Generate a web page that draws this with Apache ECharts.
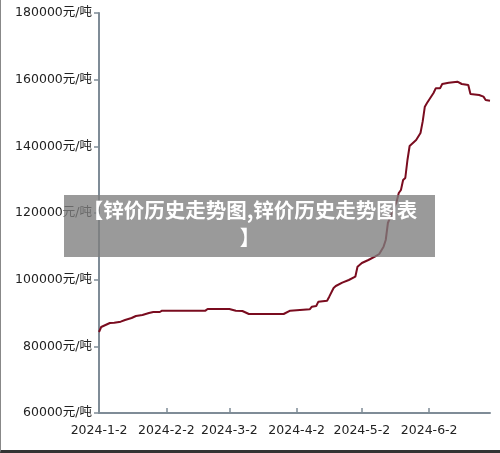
<!DOCTYPE html>
<html>
<head>
<meta charset="utf-8">
<script src="https://cdn.jsdelivr.net/npm/echarts@6/dist/echarts.min.js"></script>
<style>
html,body{margin:0;padding:0;background:#fff;}
#wrap{position:relative;width:500px;height:453px;}
#chart{width:500px;height:453px;}
#frame{position:absolute;left:0;top:0;width:500px;height:453px;box-sizing:border-box;border-left:1px solid #888;border-bottom:3px solid #333;pointer-events:none;}
</style>
</head>
<body>
<div id="wrap"><div id="chart"></div><div id="frame"></div></div>
<script>
const dates = ['2024-01-02','2024-01-03','2024-01-05','2024-01-07','2024-01-09','2024-01-12','2024-01-14','2024-01-17','2024-01-19','2024-01-22','2024-01-25','2024-01-27','2024-01-30','2024-01-31','2024-02-20','2024-02-21','2024-03-02','2024-03-05','2024-03-08','2024-03-11','2024-03-27','2024-03-30','2024-04-08','2024-04-09','2024-04-11','2024-04-12','2024-04-16','2024-04-17','2024-04-19','2024-04-20','2024-04-23','2024-04-26','2024-04-29','2024-04-30','2024-05-02','2024-05-05','2024-05-08','2024-05-10','2024-05-12','2024-05-13','2024-05-14','2024-05-18','2024-05-19','2024-05-20','2024-05-21','2024-05-22','2024-05-23','2024-05-24','2024-05-25','2024-05-27','2024-05-29','2024-05-30','2024-05-31','2024-06-01','2024-06-04','2024-06-05','2024-06-07','2024-06-08','2024-06-11','2024-06-15','2024-06-17','2024-06-20','2024-06-21','2024-06-25','2024-06-27','2024-06-28','2024-06-30'];
const prices = [84300,85800,86400,87000,87100,87400,87900,88500,89100,89400,90000,90300,90300,90700,90700,91200,91200,90700,90600,89700,89700,90700,91100,91900,92100,93400,93700,94900,97500,98100,99100,99900,100900,103900,105000,105900,106900,107700,109900,111900,117000,123400,126000,126900,129900,130500,135900,140100,140700,141900,144000,147400,151900,153000,156000,157400,157400,158700,159100,159400,158700,158400,155700,155400,154900,153900,153700];
const xTicks = ['2024-01-02','2024-02-02','2024-03-02','2024-04-02','2024-05-02','2024-06-02'];
const yMin = 60000, yMax = 180000, yStep = 20000;
const titleLine1 = '【锌价历史走势图,锌价历史走势图表';
const titleLine2 = '】';

const ts = s => new Date(s + 'T00:00:00').getTime();
const chart = echarts.init(document.getElementById('chart'), null, {renderer:'canvas'});
const axisColor = '#7f8c97';
const labelFont = '"DejaVu Sans", "Noto Sans CJK SC", sans-serif';
chart.setOption({
  animation:false,
  backgroundColor:'#fff',
  grid:{left:99,right:10,top:13,bottom:40,containLabel:false},
  xAxis:{
    type:'value',
    min: ts(dates[0]), max: ts(dates[dates.length-1]),
    splitLine:{show:false},
    axisLine:{lineStyle:{color:axisColor,width:2}},
    axisTick:{show:true,inside:true,length:5,lineStyle:{color:axisColor,width:1.5},customValues: xTicks.map(ts)},
    axisLabel:{color:'#222',fontSize:12.5,margin:11,fontFamily:labelFont,
      customValues: xTicks.map(ts),
      formatter: v => { const d = new Date(v); return d.getFullYear()+'-'+(d.getMonth()+1)+'-'+d.getDate(); }}
  },
  yAxis:{
    type:'value', min:yMin, max:yMax, interval:yStep,
    splitLine:{show:false},
    axisLine:{show:true,lineStyle:{color:axisColor,width:2}},
    axisTick:{show:true,length:5,lineStyle:{color:axisColor,width:1.5}},
    axisLabel:{color:'#222',fontSize:12.5,margin:7,fontFamily:labelFont,formatter: v => v + '元/吨'}
  },
  series:[{
    type:'line',
    data: dates.map((d,i)=>[ts(d), prices[i]]),
    symbol:'none',
    lineStyle:{color:'#7a0c1f',width:2},
    z:2
  }],
  graphic:[
    {type:'rect',left:64,top:195,shape:{width:371,height:62},style:{fill:'rgba(125,125,125,0.78)'},z:100},
    {type:'text',left:'center',top:200,style:{text:titleLine1,fill:'#fff',font:'bold 20.5px "Noto Sans CJK SC"',textAlign:'center'},z:101},
    {type:'text',left:'center',top:227,style:{text:titleLine2,fill:'#fff',font:'bold 20.5px "Noto Sans CJK SC"',textAlign:'center'},z:101}
  ]
});
</script>
</body>
</html>
